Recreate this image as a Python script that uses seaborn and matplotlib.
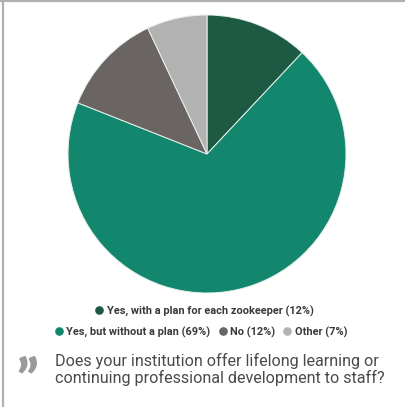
import matplotlib
matplotlib.use("Agg")
import matplotlib.pyplot as plt
from matplotlib.lines import Line2D
import seaborn as sns

# Survey answers, going clockwise from 12 o'clock
categories = [
    "Yes, with a plan for each zookeeper",
    "Yes, but without a plan",
    "No",
    "Other",
]
shares = [12, 69, 12, 7]
colors = sns.color_palette(["#1e5a43", "#13876e", "#6a6462", "#b2b2b2"])
question_lines = ["Does your institution offer lifelong learning or",
                  "continuing professional development to staff?"]

sns.set_theme(style="white")
plt.rcParams["font.family"] = ["Roboto", "DejaVu Sans"]

fig = plt.figure(figsize=(4.06, 4.07), dpi=100)
fig.patch.set_facecolor("white")

W, H = 406, 407
ax = fig.add_axes([68 / W, 1 - 293 / H, 278 / W, 278 / H])
wedges, _ = ax.pie(
    shares,
    colors=colors,
    startangle=90,
    counterclock=False,
    wedgeprops=dict(edgecolor="#e8efe9", linewidth=0.7),
)
ax.set_xlim(-1, 1)
ax.set_ylim(-1, 1)
ax.set_aspect("equal")
ax.axis("off")

# Legend, wrapped over two centred rows
labels = [f"{c} ({v}%)" for c, v in zip(categories, shares)]
handles = [
    Line2D([], [], marker="o", linestyle="none", markersize=5.2,
           markerfacecolor=col, markeredgecolor=col)
    for col in colors
]
legend_kw = dict(frameon=False, handletextpad=0.3, columnspacing=0.7,
                 handlelength=0.8, borderaxespad=0, borderpad=0,
                 prop=dict(family=["Roboto", "DejaVu Sans"], weight="bold", size=7.9),
                 labelcolor="#3a3a3a")
leg1 = fig.legend(handles[:1], labels[:1], loc="center",
                  bbox_to_anchor=(204 / W, 1 - 311 / H), ncol=1, **legend_kw)
leg2 = fig.legend(handles[1:], labels[1:], loc="center",
                  bbox_to_anchor=(201 / W, 1 - 332 / H), ncol=3, **legend_kw)

# Quote mark and the survey question
fig.text(16 / W, 1 - 396 / H, "\u201d", fontsize=38, fontweight="heavy",
         color="#9a9a9a", va="baseline", ha="left",
         family=["Lato", "DejaVu Sans"])
for i, line in enumerate(question_lines):
    fig.text(55 / W, 1 - (366 + 17 * i) / H, line, fontsize=11.6,
             color="#4a4a4a", va="baseline", ha="left")

# Thin frame along the top and left edges
fig.add_artist(Line2D([0, 1], [1 - 1 / H, 1 - 1 / H], color="#b0b0b0", linewidth=1.6,
                      transform=fig.transFigure))
fig.add_artist(Line2D([3 / W, 3 / W], [0, 1], color="#b0b0b0", linewidth=1.6,
                      transform=fig.transFigure))

fig.savefig("out.png", dpi=100, facecolor="white")
